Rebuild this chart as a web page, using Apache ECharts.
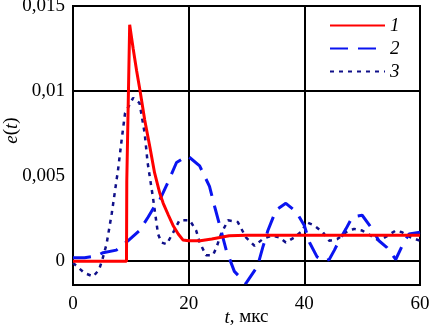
<!DOCTYPE html>
<html>
<head>
<meta charset="utf-8">
<script src="https://cdn.jsdelivr.net/npm/echarts@6/dist/echarts.min.js"></script>
<style>
  html, body { margin: 0; padding: 0; background: #fff; }
  #chart { width: 431px; height: 328px; }
</style>
</head>
<body>
<div id="chart"></div>
<script>
// t (мкс), e(t)
var curve1 = [[0, 0], [9.25, 0], [9.3, 0.0047], [9.8, 0.0139], [10.1, 0.0132], [10.4, 0.0125],
    [11, 0.0112], [11.6, 0.01], [12.4, 0.0083], [13.3, 0.0067], [14.1, 0.0052], [15, 0.004],
    [15.6, 0.0034], [16.5, 0.0027], [17.3, 0.0021], [18.2, 0.0016], [19, 0.00125], [20, 0.0012],
    [22, 0.0012], [24, 0.0013], [27, 0.0015], [30, 0.00153], [60, 0.00153]];
var curve2 = [[0, 0.0002], [2, 0.0002], [4, 0.0003], [5.2, 0.0005], [7.5, 0.00065], [9.5, 0.0012],
    [11.5, 0.0018], [13, 0.0026], [14.4, 0.0034], [15, 0.0036], [16.5, 0.0047], [17.9, 0.0058],
    [19.8, 0.0062], [21.9, 0.0056], [23.6, 0.0044], [24.5, 0.0032], [25.6, 0.0018], [26.5, 0.00065],
    [27.9, -0.0006], [29.9, -0.0013], [31.9, -0.0003], [32.8, 0.0008], [33.7, 0.0018], [35.1, 0.003],
    [36.8, 0.0034], [38.6, 0.0029], [40, 0.0021], [40.9, 0.0011], [42.2, 0.00025], [43.5, 0],
    [44.3, 0.0001], [45.2, 0.00065], [46, 0.0012], [47.2, 0.0019], [48.3, 0.0026], [50, 0.0027],
    [51.5, 0.002], [52.9, 0.0012], [54.3, 0.0008], [55.8, 0.0001], [57.2, 0.0011], [58.1, 0.0016],
    [60, 0.0017]];
var curve3 = [[0, -0.0001], [1, -0.0004], [2, -0.0007], [3.5, -0.0009], [4.5, -0.0005], [5, 0],
    [5.8, 0.001], [6.7, 0.0028], [7.8, 0.0054], [8.4, 0.0071], [9, 0.0087], [10.4, 0.0096],
    [11.5, 0.0093], [12.4, 0.0075], [12.9, 0.0058], [13.8, 0.0038], [14.7, 0.0016], [15.3, 0.0011],
    [16.2, 0.001], [17.5, 0.0018], [18.4, 0.0024], [20.2, 0.0024], [21.3, 0.0018], [21.9, 0.0011],
    [23, 0.00035], [24.2, 0.00035], [24.8, 0.0008], [25.6, 0.0016], [26.8, 0.0024], [28.5, 0.0023],
    [29.9, 0.0014], [31.4, 0.0009], [32.8, 0.0013], [34.3, 0.0015], [35.7, 0.0014], [36.8, 0.0011],
    [38.3, 0.0014], [39.7, 0.0018], [40.3, 0.0023], [41.7, 0.0021], [43.2, 0.0017], [44.3, 0.0012],
    [45.7, 0.0013], [47.2, 0.0017], [48.6, 0.0019], [50, 0.0018], [51.5, 0.0015], [52.9, 0.0012],
    [54.4, 0.0015], [55.8, 0.0018], [56.9, 0.0017], [58.4, 0.0014], [60, 0.0012]];
var yTicks = [0, 0.005, 0.01, 0.015];
var yGrid = [0, 0.005, 0.01];
var names = ['1', '2', '3'];

var font = '"Liberation Serif", "DejaVu Serif", serif';
var myChart = echarts.init(document.getElementById('chart'));
var option = {
    animation: false,
    textStyle: { fontFamily: font },
    grid: {
        left: 73, right: 11, top: 6, bottom: 43,
        outerBoundsMode: 'none', containLabel: false,
        show: true, borderColor: '#000', borderWidth: 2
    },
    legend: {
        data: names,
        orient: 'vertical',
        left: 324, top: 11,
        itemWidth: 55, itemHeight: 14, itemGap: 4,
        itemStyle: { opacity: 0 },
        textStyle: { fontFamily: font, fontStyle: 'italic', fontSize: 19, color: '#000' }
    },
    xAxis: {
        type: 'value', min: 0, max: 60, interval: 20,
        name: '{i|t}, мкс',
        nameLocation: 'middle', nameGap: 23, nameMoveOverlap: false,
        nameTextStyle: {
            fontFamily: font, fontSize: 19, color: '#000',
            rich: { i: { fontFamily: font, fontSize: 19, fontStyle: 'italic', color: '#000' } }
        },
        axisLine: { show: false },
        axisTick: { show: false },
        axisLabel: { fontFamily: font, fontSize: 19, color: '#000', margin: 10 },
        splitLine: { show: true, lineStyle: { color: '#000', width: 2 } }
    },
    yAxis: {
        type: 'value', min: -0.0014, max: 0.015,
        name: '{i|e}({i|t})',
        nameLocation: 'middle', nameGap: 52, nameMoveOverlap: false,
        nameTextStyle: {
            fontFamily: font, fontSize: 19, color: '#000', padding: [0, 0, 0, 30],
            rich: { i: { fontFamily: font, fontSize: 19, fontStyle: 'italic', color: '#000' } }
        },
        axisLine: { show: false },
        axisTick: { show: false },
        splitLine: { show: false },
        axisLabel: {
            customValues: yTicks,
            fontFamily: font, fontSize: 19, color: '#000', margin: 8,
            padding: [6, 0, 0, 0],
            formatter: function (v) { return String(v).replace('.', ','); }
        }
    },
    series: [
        {
            name: 'grid', type: 'line', data: [], silent: true,
            markLine: {
                silent: true, symbol: 'none', z: 1,
                label: { show: false },
                lineStyle: { color: '#000', width: 2, type: 'solid' },
                data: yGrid.map(function (v) { return { yAxis: v }; })
            }
        },
        {
            name: names[2], type: 'line', data: curve3, symbol: 'none', z: 3,
            lineStyle: { color: '#10108a', width: 2.5, type: [4, 5] },
            itemStyle: { color: '#10108a' }
        },
        {
            name: names[1], type: 'line', data: curve2, symbol: 'none', z: 3,
            lineStyle: { color: '#0a14f0', width: 3, type: [18, 10] },
            itemStyle: { color: '#0a14f0' }
        },
        {
            name: names[0], type: 'line', data: curve1, symbol: 'none', z: 4,
            lineStyle: { color: '#ff0000', width: 3 },
            itemStyle: { color: '#ff0000' }
        }
    ]
};
myChart.setOption(option);
</script>
</body>
</html>
